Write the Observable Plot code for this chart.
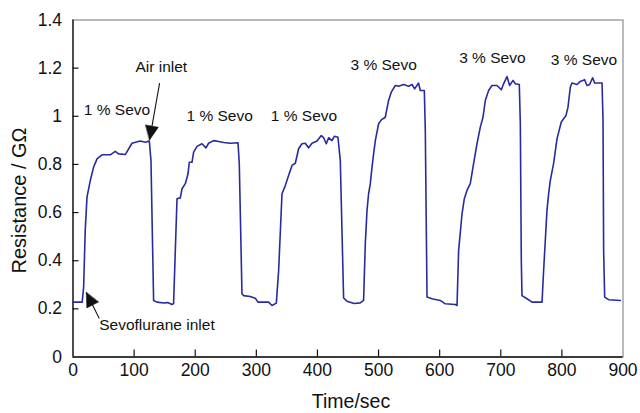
<!DOCTYPE html>
<html>
<head>
<meta charset="utf-8">
<script src="https://cdn.jsdelivr.net/npm/d3@7"></script>
<script src="https://cdn.jsdelivr.net/npm/@observablehq/plot@0.6"></script>
<style>
  html, body { margin: 0; padding: 0; background: #fff; }
</style>
</head>
<body>
<div id="chart"></div>
<script>
// ---- Data ----
const timeSec = [
  0, 15, 17.4, 20, 22.9, 28.3, 33.7, 39.3, 47.4, 61, 69.2, 74.6, 85.6, 96.5, 110, 118.3, 124.9, 127.6, 131.9, 137.5, 148.3,
  155, 162, 164.6, 170.2, 175.6, 178.4, 183.8, 188.2, 190.3, 194.7, 197.4, 202.9, 211.1, 217.6, 221.9, 230.1, 238.3, 246.4, 257.4, 270, 272.1, 276.5, 279, 290, 298.3, 302.7, 314.7,
  320, 325.6, 332.7, 336.5, 342, 347.4, 352.8, 358.4, 363.8, 369.2, 374.7, 380.1, 385.5, 391.1, 399.3, 406.3, 410.1, 414.5, 418.3, 423.8, 427.6, 433.6, 437.4, 442.8, 448.4, 460, 470, 475.5,
  478.3, 481.1, 483.7, 486.5, 489.3, 491.9, 494.7, 500.1, 504.5, 511, 516.4, 520.8, 527.4, 532.8, 541, 549.2, 554.8, 559, 565.5, 568.3, 574.9, 576.5, 579.3, 587.5, 601, 609.2, 625.6,
  628.4, 631, 636.6, 640.3, 644.7, 650.1, 655.5, 661.1, 666.5, 670.9, 674.7, 680.1, 685.6, 693.8, 700.9, 704.6, 710.2, 714.5, 720, 723.8, 730.3, 732, 733.6, 734.7, 742.9, 751.1, 764.7,
  767.5, 770.1, 775.6, 778.3, 781, 786.4, 792, 799, 806.7, 810, 813.8, 816.5, 824.7, 830.1, 837.2, 841.1, 845.4, 850.3, 853.6, 865.7, 867.3, 868.3, 870, 876.4, 895.6
];
const resistance = [
  0.228, 0.228, 0.29, 0.525, 0.664, 0.733, 0.789, 0.823, 0.84, 0.84, 0.854, 0.844, 0.841, 0.888, 0.897, 0.892, 0.897, 0.816, 0.235, 0.228, 0.224,
  0.226, 0.218, 0.222, 0.657, 0.661, 0.699, 0.72, 0.761, 0.809, 0.809, 0.851, 0.875, 0.886, 0.869, 0.888, 0.899, 0.895, 0.891, 0.888, 0.89, 0.803, 0.263, 0.255, 0.251, 0.244, 0.228, 0.228,
  0.228, 0.214, 0.224, 0.359, 0.678, 0.712, 0.754, 0.796, 0.805, 0.865, 0.886, 0.888, 0.869, 0.888, 0.897, 0.92, 0.911, 0.886, 0.911, 0.899, 0.917, 0.913, 0.816, 0.245, 0.232, 0.222, 0.225, 0.235,
  0.47, 0.609, 0.678, 0.72, 0.789, 0.844, 0.899, 0.969, 0.985, 0.996, 1.066, 1.1, 1.128, 1.125, 1.132, 1.125, 1.132, 1.114, 1.138, 1.107, 1.107, 0.941, 0.249, 0.242, 0.235, 0.221, 0.218,
  0.214, 0.442, 0.595, 0.657, 0.692, 0.72, 0.803, 0.886, 0.955, 0.996, 1.066, 1.107, 1.128, 1.128, 1.11, 1.135, 1.165, 1.128, 1.149, 1.135, 1.132, 0.969, 0.401, 0.255, 0.242, 0.228, 0.228,
  0.228, 0.359, 0.609, 0.678, 0.733, 0.803, 0.906, 0.976, 1.003, 1.038, 1.121, 1.138, 1.132, 1.145, 1.152, 1.128, 1.132, 1.16, 1.138, 1.138, 0.983, 0.442, 0.249, 0.238, 0.235
];

const xTicks = [0, 100, 200, 300, 400, 500, 600, 700, 800, 900];
const xTickLabels = ["0", "100", "200", "300", "400", "500", "600", "700", "800", "900"];
const yTicks = [0, 0.2, 0.4, 0.6, 0.8, 1.0, 1.2, 1.4];
const yTickLabels = ["0", "0.2", "0.4", "0.6", "0.8", "1", "1.2", "1.4"];

const xTitle = "Time/sec";
const yTitle = "Resistance / GΩ";

// annotation labels
const annoText = ["1 % Sevo", "Air inlet", "Sevoflurane inlet", "1 % Sevo", "1 % Sevo", "3 % Sevo", "3 % Sevo", "3 % Sevo"];
const annoX = [72, 144.5, 137.4, 240, 378, 508.3, 686.2, 836.2];
const annoY = [1.028, 1.204, 0.131, 0.999, 1.0, 1.211, 1.241, 1.232];

// annotation arrows (tail -> tip), rotation of the filled head in screen degrees
const arrowTailX = [141.7, 43];
const arrowTailY = [1.1375, 0.16];
const arrowTipX = [125.3, 21.8];
const arrowTipY = [0.902, 0.268];
const arrowHeadRotate = [190, -26.6];

// ---- Build tables ----
const series = timeSec.map((t, i) => ({t, r: resistance[i]}));
const annos = annoText.map((s, i) => ({s, x: annoX[i], y: annoY[i]}));
const arrows = arrowTailX.map((_, i) => ({
  x1: arrowTailX[i], y1: arrowTailY[i], x2: arrowTipX[i], y2: arrowTipY[i], rot: arrowHeadRotate[i]
}));

const headShape = {
  draw(context, l) {
    context.moveTo(0, -l);
    context.lineTo(-6.5, 0);
    context.lineTo(6.5, 0);
    context.closePath();
  }
};

const chart = Plot.plot({
  width: 640,
  height: 413,
  marginLeft: 72.5,
  marginRight: 17.5,
  marginTop: 19.5,
  marginBottom: 56.5,
  style: {
    fontFamily: "'Liberation Sans', Arial, Helvetica, sans-serif",
    fontSize: "17.5px",
    color: "#111",
    background: "#fff",
    overflow: "visible"
  },
  x: {domain: [0, 900]},
  y: {domain: [0, 1.4]},
  marks: [
    Plot.frame({stroke: "#8c8c8c", strokeWidth: 1.2}),
    Plot.axisX({ticks: xTicks, tickSize: 0, tickPadding: 7, label: null,
      tickFormat: (d, i) => xTickLabels[xTicks.indexOf(d)]}),
    Plot.axisY({ticks: yTicks, tickSize: 0, tickPadding: 11, label: null,
      tickFormat: (d) => yTickLabels[yTicks.findIndex(v => Math.abs(v - d) < 1e-9)]}),
    // inward ticks
    Plot.ruleX(xTicks.slice(1, -1), {x: d => d, y1: 0, y2: 0, insetBottom: 7, stroke: "#111", strokeWidth: 1.2}),
    Plot.ruleY(yTicks.slice(1, -1), {y: d => d, x1: 0, x2: 0, insetRight: -6, stroke: "#111", strokeWidth: 1.2}),
    Plot.ruleX([0], {stroke: "#111", strokeWidth: 1.3}),
    Plot.ruleY([0], {stroke: "#111", strokeWidth: 1.3}),
    // data line
    Plot.line(series, {x: "t", y: "r", stroke: "#2a2aa0", strokeWidth: 1.6, curve: "linear"}),
    // annotations
    Plot.link(arrows, {x1: "x1", y1: "y1", x2: "x2", y2: "y2", stroke: "#111", strokeWidth: 1.1}),
    Plot.vector(arrows, {x: "x2", y: "y2", rotate: "rot", length: 14, anchor: "end",
      shape: headShape, fill: "#111", stroke: "#111", strokeWidth: 0.5}),
    Plot.text(annos, {x: "x", y: "y", text: "s", fontSize: 15.5, fill: "#111", lineAnchor: "middle", textAnchor: "middle"}),
    // axis titles
    Plot.text([yTitle], {frameAnchor: "left", dx: -53, dy: 12, rotate: -90, fontSize: 20, fill: "#111", textAnchor: "middle", lineAnchor: "middle"}),
    Plot.text([xTitle], {frameAnchor: "bottom", dx: 3, dy: 45, fontSize: 19.5, fill: "#111", textAnchor: "middle", lineAnchor: "middle"})
  ]
});

document.getElementById("chart").appendChild(chart);
</script>
</body>
</html>
